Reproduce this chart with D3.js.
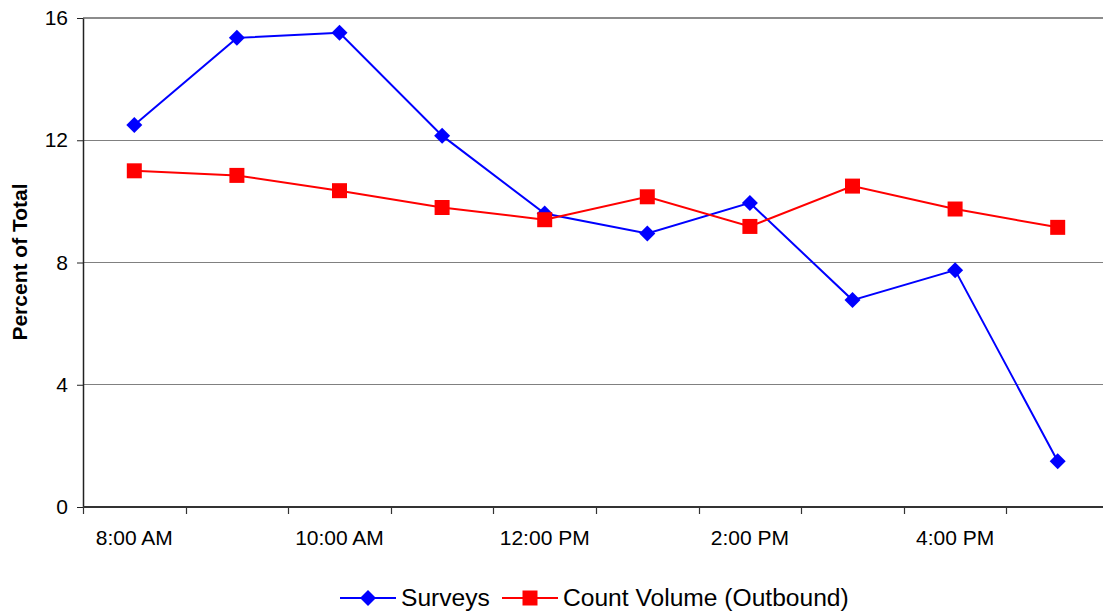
<!DOCTYPE html>
<html>
<head>
<meta charset="utf-8">
<script src="https://cdn.jsdelivr.net/npm/d3@7"></script>
<style>
  html, body { margin: 0; padding: 0; background: #fff; }
  svg { display: block; font-family: "Liberation Sans", Arial, sans-serif; }
</style>
</head>
<body>
<svg id="chart" width="1103" height="612"></svg>
<script>
// Hourly share of the day's total, by hour starting
const hours = ["8:00 AM", "9:00 AM", "10:00 AM", "11:00 AM", "12:00 PM",
               "1:00 PM", "2:00 PM", "3:00 PM", "4:00 PM", "5:00 PM"];
const hourLabels = ["8:00 AM", "10:00 AM", "12:00 PM", "2:00 PM", "4:00 PM"];
const surveys = [12.5, 15.35, 15.52, 12.15, 9.6, 8.95, 9.95, 6.77, 7.75, 1.5];
const countVolume = [11.0, 10.85, 10.35, 9.8, 9.4, 10.15, 9.18, 10.5, 9.75, 9.15];
const yTicks = [0, 4, 8, 12, 16];

const svg = d3.select("#chart");

const x = d3.scaleBand().domain(hours).range([83, 1109]).paddingInner(0).paddingOuter(0);
const y = d3.scaleLinear().domain([0, 16]).range([507, 18]);
const cx = d => x(d) + x.bandwidth() / 2;

// horizontal gridlines
svg.append("g")
  .selectAll("line")
  .data(yTicks.filter(v => v > 0))
  .join("line")
  .attr("x1", 83).attr("x2", 1103)
  .attr("y1", d => y(d)).attr("y2", d => y(d))
  .attr("stroke", d => d === 16 ? "#8c8c8c" : "#808080")
  .attr("stroke-width", d => d === 16 ? 2 : 1)
  .attr("shape-rendering", "crispEdges");

// y axis
const yAxis = svg.append("g")
  .attr("transform", "translate(83,0)")
  .call(d3.axisLeft(y).tickValues(yTicks).tickSize(6).tickSizeOuter(0).tickPadding(9));
yAxis.select(".domain").attr("stroke", "#222").attr("stroke-width", 1.5);
yAxis.selectAll(".tick line").attr("stroke", "#222");
yAxis.selectAll("text")
  .attr("font-size", 21).attr("fill", "#000")
  .attr("font-family", "Liberation Sans, Arial, sans-serif");

// x axis: labels under every other hour, ticks at the band edges
const xAxis = svg.append("g")
  .attr("transform", "translate(0,507)")
  .call(d3.axisBottom(x).tickValues(hourLabels).tickSize(0).tickSizeOuter(0).tickPadding(23));
xAxis.select(".domain").remove();
xAxis.selectAll("text")
  .attr("font-size", 21).attr("fill", "#000")
  .attr("font-family", "Liberation Sans, Arial, sans-serif");

svg.append("line")
  .attr("x1", 83).attr("x2", 1103).attr("y1", 507).attr("y2", 507)
  .attr("stroke", "#333").attr("stroke-width", 2);

svg.append("g")
  .selectAll("line")
  .data(hours)
  .join("line")
  .attr("x1", d => Math.round(x(d)) + 0.5).attr("x2", d => Math.round(x(d)) + 0.5)
  .attr("y1", 507).attr("y2", 514)
  .attr("stroke", "#333").attr("stroke-width", 1.2);

// y axis title
svg.append("text")
  .attr("transform", "translate(27,262) rotate(-90)")
  .attr("text-anchor", "middle")
  .attr("font-size", 21).attr("font-weight", "bold")
  .text("Percent of Total");

const line = d3.line().x((d, i) => cx(hours[i])).y(d => y(d));

const diamond = s => `M0,${-s}L${s},0L0,${s}L${-s},0Z`;
const square = s => `M${-s},${-s}H${s}V${s}H${-s}Z`;

// Surveys series
svg.append("path").datum(surveys)
  .attr("d", line).attr("fill", "none")
  .attr("stroke", "#0000ff").attr("stroke-width", 2);
svg.append("g").selectAll("path")
  .data(surveys).join("path")
  .attr("transform", (d, i) => `translate(${cx(hours[i])},${y(d)})`)
  .attr("d", diamond(8)).attr("fill", "#0000ff");

// Count volume series
svg.append("path").datum(countVolume)
  .attr("d", line).attr("fill", "none")
  .attr("stroke", "#ff0000").attr("stroke-width", 2);
svg.append("g").selectAll("path")
  .data(countVolume).join("path")
  .attr("transform", (d, i) => `translate(${cx(hours[i])},${y(d)})`)
  .attr("d", square(7.5)).attr("fill", "#ff0000");

// legend
const legend = svg.append("g");
const items = [
  { name: "Surveys", color: "#0000ff", shape: diamond(8), x0: 340 },
  { name: "Count Volume (Outbound)", color: "#ff0000", shape: square(7.5), x0: 502 }
];
items.forEach(it => {
  legend.append("line")
    .attr("x1", it.x0).attr("x2", it.x0 + 56).attr("y1", 598).attr("y2", 598)
    .attr("stroke", it.color).attr("stroke-width", 2);
  legend.append("path")
    .attr("transform", `translate(${it.x0 + 28},598)`)
    .attr("d", it.shape).attr("fill", it.color);
  legend.append("text")
    .attr("x", it.x0 + 61).attr("y", 606)
    .attr("font-size", 24.6).attr("fill", "#000")
    .text(it.name);
});
</script>
</body>
</html>
